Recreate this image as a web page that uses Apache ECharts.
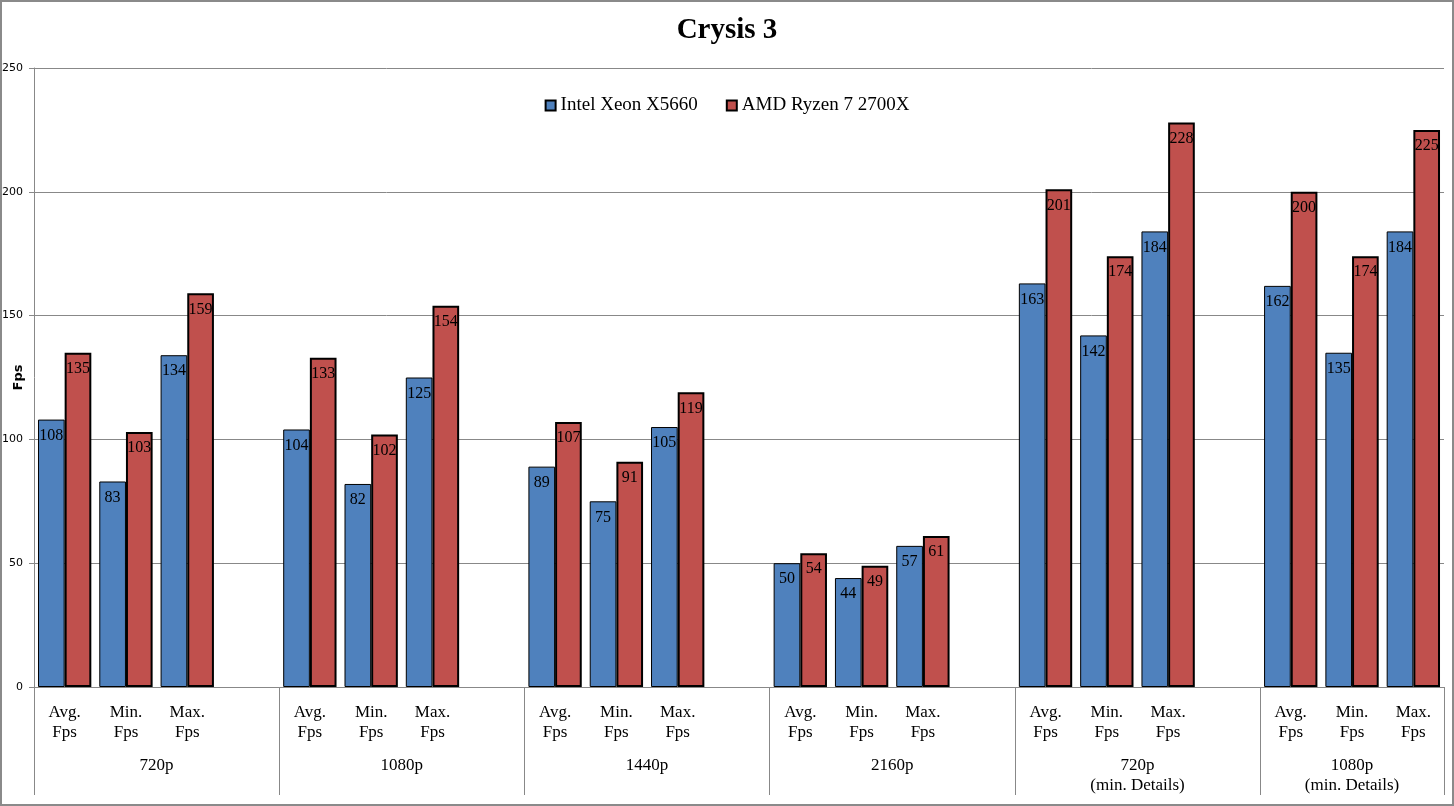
<!DOCTYPE html>
<html>
<head>
<meta charset="utf-8">
<script src="https://cdn.jsdelivr.net/npm/echarts@6/dist/echarts.min.js"></script>
<style>html,body{margin:0;padding:0;background:#fff}#c{width:1454px;height:806px}</style>
</head>
<body>
<div id="c"></div>
<script>
const groups = ['720p', '1080p', '1440p', '2160p', '720p\n(min. Details)', '1080p\n(min. Details)'];
const subCats = ['Avg.\nFps', 'Min.\nFps', 'Max.\nFps'];
const seriesNames = ['Intel Xeon X5660', 'AMD Ryzen 7 2700X'];
const xeon  = [108, 83, 134, 104, 82, 125, 89, 75, 105, 50, 44, 57, 163, 142, 184, 162, 135, 184];
const ryzen = [135, 103, 159, 133, 102, 154, 107, 91, 119, 54, 49, 61, 201, 174, 228, 200, 174, 225];
const yTicks = [0, 50, 100, 150, 200, 250];

// Build category list: 3 sub categories per group, plus a blank gap slot between groups
const cats = [], dXeon = [], dRyzen = [], boundaries = [0], centers = [];
let pos = 0;
groups.forEach((g, gi) => {
  const start = pos;
  subCats.forEach((s, si) => {
    cats.push(s);
    dXeon.push(xeon[gi * 3 + si]);
    dRyzen.push(ryzen[gi * 3 + si]);
    pos++;
  });
  if (gi < groups.length - 1) { cats.push(''); dXeon.push(null); dRyzen.push(null); pos++; }
  boundaries.push(pos);
  centers.push((start + pos) / 2);
});
const total = pos;
const centerName = {};
centers.forEach((c, i) => centerName[c] = groups[i]);

const serif = 'Liberation Serif';
const chart = echarts.init(document.getElementById('c'));
chart.setOption({
  animation: false,
  backgroundColor: '#fff',
  title: { text: 'Crysis 3', left: 'center', top: 11,
    textStyle: { fontFamily: serif, fontSize: 29, fontWeight: 'bold', color: '#000' } },
  legend: { top: 91, left: 'center', itemGap: 28, itemWidth: 10, itemHeight: 10, icon: 'rect',
    textStyle: { fontFamily: serif, fontSize: 19, color: '#000' } },
  graphic: [{ type: 'rect', shape: { x: 1, y: 1, width: 1452, height: 804 },
    style: { fill: 'none', stroke: '#8a8a8a', lineWidth: 2 }, silent: true }],
  grid: { left: 34, right: 10, top: 68, bottom: 119, containLabel: false, outerBoundsMode: 'none' },
  xAxis: [{
    type: 'category', data: cats, gridIndex: 0,
    axisLine: { lineStyle: { color: '#888', width: 1 } },
    axisTick: { show: false },
    axisLabel: { interval: 0, margin: 16, fontFamily: serif, fontSize: 17, lineHeight: 20, color: '#000' }
  }, {
    type: 'value', gridIndex: 0, position: 'bottom', min: 0, max: total,
    axisLine: { show: false },
    splitLine: { show: false },
    axisTick: { show: true, customValues: boundaries, length: 108, lineStyle: { color: '#888', width: 1 } },
    axisLabel: { show: true, customValues: centers, margin: 69, fontFamily: serif, fontSize: 17, lineHeight: 20,
      color: '#000', formatter: v => centerName[v] || '' }
  }],
  yAxis: {
    type: 'value', min: 0, max: 250, interval: 50,
    name: 'Fps', nameLocation: 'middle', nameGap: 9, nameRotate: 90, nameMoveOverlap: false,
    nameTextStyle: { fontFamily: 'DejaVu Sans', fontSize: 13, fontWeight: 'bold', color: '#000' },
    axisLine: { show: true, lineStyle: { color: '#888' } },
    axisTick: { show: true, length: 5, lineStyle: { color: '#888' } },
    axisLabel: { margin: 11, fontFamily: 'DejaVu Sans', fontSize: 11, color: '#000' },
    splitLine: { lineStyle: { color: '#888', width: 1 } }
  },
  series: [{
    name: seriesNames[0], type: 'bar', data: dXeon, barGap: '0%', barCategoryGap: '13%',
    itemStyle: { color: '#4F81BD', borderColor: '#000', borderWidth: 1 },
    label: { show: true, position: 'insideTop', distance: 8, fontFamily: serif, fontSize: 16, color: '#000' }
  }, {
    name: seriesNames[1], type: 'bar', data: dRyzen, barGap: '0%', barCategoryGap: '13%',
    itemStyle: { color: '#C0504D', borderColor: '#000', borderWidth: 2 },
    label: { show: true, position: 'insideTop', distance: 8, fontFamily: serif, fontSize: 16, color: '#000' }
  }]
});
</script>
</body>
</html>
